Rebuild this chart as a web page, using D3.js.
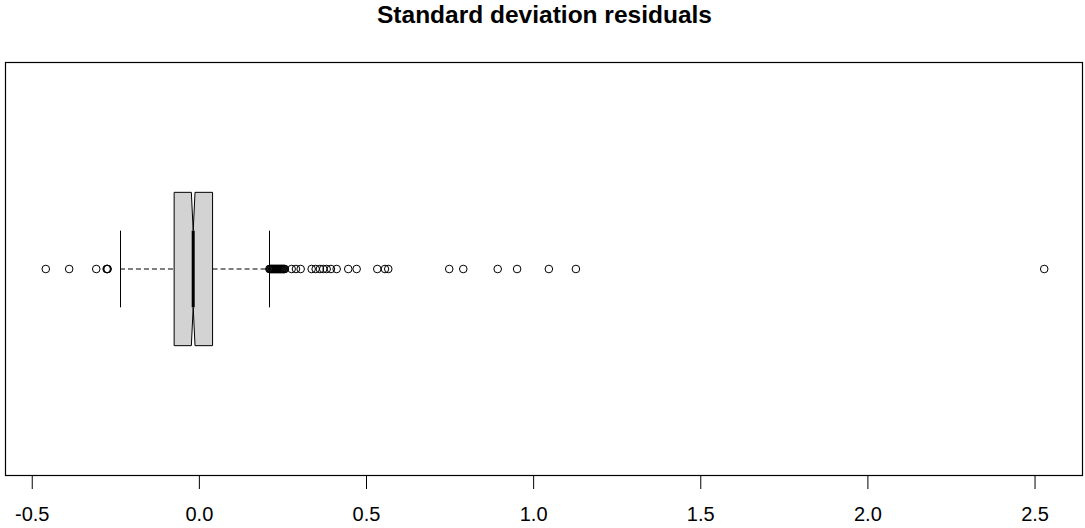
<!DOCTYPE html>
<html>
<head>
<meta charset="utf-8">
<script src="https://cdn.jsdelivr.net/npm/d3@7"></script>
<style>
  html, body { margin: 0; padding: 0; background: #ffffff; }
  svg { display: block; }
</style>
</head>
<body>
<svg id="chart" width="1085" height="528"></svg>
<script>
// ---- data ----
const title = "Standard deviation residuals";
const tickValues = [-0.5, 0.0, 0.5, 1.0, 1.5, 2.0, 2.5];
const tickLabels = ["-0.5", "0.0", "0.5", "1.0", "1.5", "2.0", "2.5"];
// five-number summary: lower whisker, Q1, median, Q3, upper whisker
const stats = [-0.236, -0.074, -0.017, 0.041, 0.210];
// notch confidence limits around the median
const notchConf = [-0.0225, -0.0115];
// outliers
const lowOutliers = [-0.458, -0.388, -0.307, -0.276, -0.274, -0.273];
const highOutliers = [
  0.211, 0.213, 0.215, 0.217, 0.219, 0.221, 0.223, 0.225, 0.227, 0.229,
  0.231, 0.233, 0.235, 0.237, 0.239, 0.241, 0.243, 0.245, 0.247, 0.249,
  0.251, 0.253, 0.255, 0.257,
  0.2776, 0.2905, 0.3045, 0.3374, 0.3494, 0.3622, 0.3721, 0.3823, 0.3951,
  0.4122, 0.4469, 0.472, 0.5337, 0.5567, 0.5666,
  0.749, 0.791, 0.894, 0.952, 1.047, 1.128, 2.529
];

// ---- layout ----
const W = 1085, H = 528;
const plot = { left: 5, right: 1083, top: 62, bottom: 476 };

const svg = d3.select("#chart");

const x = d3.scaleLinear().domain([-0.58, 2.645]).range([plot.left, plot.right]);
// single horizontal box at position 1, R-style extended range
const y = d3.scaleLinear().domain([0.46, 1.54]).range([plot.bottom, plot.top]);
const pos = 1, wid = 0.2;

// title
svg.append("text")
  .attr("x", 544.5).attr("y", 22.5)
  .attr("text-anchor", "middle")
  .attr("font-family", "Liberation Sans, Arial, sans-serif")
  .attr("font-weight", "bold")
  .attr("font-size", 24.5)
  .attr("fill", "#000")
  .text(title);

// plot frame
svg.append("rect")
  .attr("x", plot.left + 0.5).attr("y", plot.top + 0.5)
  .attr("width", plot.right - plot.left - 1)
  .attr("height", plot.bottom - plot.top - 1)
  .attr("fill", "none").attr("stroke", "#000").attr("stroke-width", 1.2);

// axis
const axis = d3.axisBottom(x)
  .tickValues(tickValues)
  .tickFormat((d, i) => tickLabels[i])
  .tickSize(13)
  .tickPadding(18);
const gAxis = svg.append("g")
  .attr("transform", `translate(0,${plot.bottom})`)
  .call(axis);
gAxis.select(".domain").remove();
gAxis.selectAll(".tick line").attr("stroke", "#000").attr("stroke-width", 1);
gAxis.selectAll(".tick text")
  .attr("font-family", "Liberation Sans, Arial, sans-serif")
  .attr("font-size", 20)
  .attr("fill", "#000");

const cy = y(pos);
const g = svg.append("g");

// whiskers (dashed)
g.append("line")
  .attr("x1", x(stats[0])).attr("x2", x(stats[1]))
  .attr("y1", cy).attr("y2", cy)
  .attr("stroke", "#000").attr("stroke-width", 1).attr("stroke-dasharray", "5,3");
g.append("line")
  .attr("x1", x(stats[3])).attr("x2", x(stats[4]))
  .attr("y1", cy).attr("y2", cy)
  .attr("stroke", "#000").attr("stroke-width", 1).attr("stroke-dasharray", "5,3");

// whisker caps
[stats[0], stats[4]].forEach(v => {
  g.append("line")
    .attr("x1", Math.round(x(v)) + 0.5).attr("x2", Math.round(x(v)) + 0.5)
    .attr("y1", y(pos + wid / 2)).attr("y2", y(pos - wid / 2))
    .attr("stroke", "#000").attr("stroke-width", 1);
});

// notched box (R bxp polygon)
const pts = [
  [stats[1], pos - wid], [notchConf[0], pos - wid], [stats[2], pos - wid / 2],
  [notchConf[1], pos - wid], [stats[3], pos - wid], [stats[3], pos + wid],
  [notchConf[1], pos + wid], [stats[2], pos + wid / 2], [notchConf[0], pos + wid],
  [stats[1], pos + wid]
];
g.append("path")
  .attr("d", d3.line().x(d => x(d[0])).y(d => y(d[1]))(pts) + "Z")
  .attr("fill", "#d3d3d3").attr("stroke", "#000").attr("stroke-width", 1)
  .attr("stroke-linejoin", "miter");

// median
g.append("line")
  .attr("x1", x(stats[2])).attr("x2", x(stats[2]))
  .attr("y1", y(pos + wid / 2)).attr("y2", y(pos - wid / 2))
  .attr("stroke", "#000").attr("stroke-width", 3);

// outliers
g.selectAll("circle.out")
  .data(lowOutliers.concat(highOutliers))
  .join("circle")
  .attr("class", "out")
  .attr("cx", d => x(d)).attr("cy", cy)
  .attr("r", 3.8)
  .attr("fill", "none").attr("stroke", "#000").attr("stroke-width", 1);
</script>
</body>
</html>
